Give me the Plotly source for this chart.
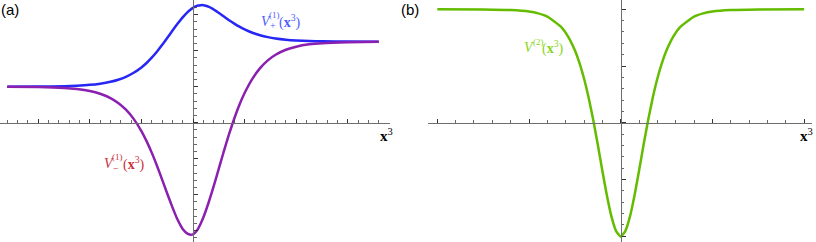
import plotly.graph_objects as go

# ---- Panel (a) data ----
xa = [-3.6, -3.0, -2.5, -2.25, -2.0, -1.8, -1.6, -1.45, -1.3, -1.15, -1.0, -0.9, -0.8, -0.7,
      -0.6, -0.5, -0.4, -0.3, -0.2, -0.1, -0.05, 0.0, 0.05, 0.1, 0.15, 0.2, 0.25, 0.3, 0.375,
      0.45, 0.525, 0.6, 0.7, 0.8, 0.9, 1.0, 1.15, 1.3, 1.45, 1.6, 1.8, 2.0, 2.25, 2.5, 3.0, 3.6]
v_plus = [1.001, 1.004, 1.015, 1.028, 1.051, 1.084, 1.135, 1.193, 1.274, 1.386, 1.535, 1.659,
          1.805, 1.971, 2.155, 2.351, 2.552, 2.746, 2.925, 3.080, 3.140, 3.190, 3.230, 3.255,
          3.265, 3.265, 3.250, 3.225, 3.170, 3.100, 3.025, 2.948, 2.846, 2.753, 2.667, 2.592,
          2.499, 2.429, 2.377, 2.339, 2.305, 2.284, 2.268, 2.260, 2.253, 2.251]
v_minus = [0.998, 0.990, 0.965, 0.935, 0.880, 0.804, 0.684, 0.549, 0.361, 0.106, -0.233,
           -0.511, -0.831, -1.188, -1.573, -1.966, -2.345, -2.690, -2.950, -3.090, -3.110,
           -3.100, -3.040, -2.940, -2.800, -2.635, -2.440, -2.230, -1.887, -1.525, -1.152,
           -0.783, -0.313, 0.117, 0.497, 0.824, 1.219, 1.516, 1.732, 1.887, 2.026, 2.112,
           2.176, 2.210, 2.238, 2.248]

# ---- Panel (b) data ----
xb = [-2.0, -1.5, -1.2, -1.0, -0.9, -0.8, -0.65, -0.575, -0.5, -0.45, -0.4, -0.35, -0.3,
      -0.25, -0.2, -0.15, -0.1, -0.05, 0.0, 0.05, 0.1, 0.15, 0.2, 0.25, 0.3, 0.35, 0.4,
      0.45, 0.5, 0.575, 0.65, 0.8, 0.9, 1.0, 1.2, 1.5, 2.0]
v2 = [2.000, 1.998, 1.988, 1.961, 1.928, 1.871, 1.689, 1.523, 1.277, 1.056, 0.780, 0.445,
      0.052, -0.386, -0.846, -1.288, -1.661, -1.911, -2.010, -1.911, -1.661, -1.288, -0.846,
      -0.386, 0.052, 0.445, 0.780, 1.056, 1.277, 1.523, 1.689, 1.871, 1.928, 1.961, 1.988,
      1.998, 2.000]

W, H = 816, 242
BLUE = "#2626F5"
PURPLE = "#8A1FB0"
GREEN = "#63BC00"

fig = go.Figure()
for xs, ys, col, xr, yr in [(xa, v_plus, BLUE, "x", "y"), (xa, v_minus, PURPLE, "x", "y"),
                            (xb, v2, GREEN, "x2", "y2")]:
    fig.add_trace(go.Scatter(x=xs, y=ys, mode="lines",
                             line=dict(color=col, width=2.5, shape="spline", smoothing=0.5),
                             xaxis=xr, yaxis=yr, showlegend=False, hoverinfo="skip"))

def px(v):
    return v / W

def py(v):
    return 1 - v / H

# pixel geometry of the two panels
a_left, a_right, a_x0, a_xu = 0, 390, 193.0, 51.6
a_y0, a_yu = 122.7, 36.0
b_left, b_right, b_x0, b_xu = 428, 812, 620.7, 91.7
b_y0, b_yu = 122.7, 56.7

axis_common = dict(showgrid=False, zeroline=False, showline=True, linecolor="#6e6e6e", linewidth=1.2,
                   showticklabels=False, ticks="inside", ticklen=4, tickwidth=1, tickcolor="#333333",
                   tick0=0, dtick=1, fixedrange=True)
minor = dict(ticks="inside", ticklen=2.5, tickwidth=0.8, tickcolor="#444444", dtick=0.2, tick0=0, showgrid=False)

fig.update_layout(
    width=W, height=H, margin=dict(l=0, r=0, t=0, b=0),
    paper_bgcolor="white", plot_bgcolor="rgba(0,0,0,0)",
    xaxis=dict(domain=[px(a_left), px(a_right)],
               range=[(a_left - a_x0) / a_xu, (a_right - a_x0) / a_xu],
               anchor="free", position=py(a_y0), minor=minor, **axis_common),
    yaxis=dict(domain=[0, 1], range=[-(H - a_y0) / a_yu, a_y0 / a_yu],
               anchor="free", position=px(a_x0), minor=minor, **axis_common),
    xaxis2=dict(domain=[px(b_left), px(b_right)],
                range=[(b_left - b_x0) / b_xu, (b_right - b_x0) / b_xu],
                anchor="free", position=py(b_y0), minor=minor, **axis_common),
    yaxis2=dict(domain=[0, 1], range=[-(H - b_y0) / b_yu, b_y0 / b_yu],
                anchor="free", position=px(b_x0), minor=minor, **axis_common),
)

serif = "Liberation Serif, Times New Roman, serif"
sans = "Liberation Sans, Arial, sans-serif"
C_P, C_M, C_2 = "#4F5CFF", "#C8303A", "#88D61A"

def t(x, y, text, size, color, family=serif, xanchor="left"):
    return dict(x=px(x), y=py(y), text=text, font=dict(family=family, size=size, color=color),
                xanchor=xanchor)

ann = [
    t(10, 10, "(a)", 15, "black", sans, "center"),
    t(410, 10, "(b)", 15, "black", sans, "center"),
    # V_+^(1)(x^3)
    t(259, 21, "<i>V</i>", 14, C_P),
    t(267, 15, "(1)", 9, C_P),
    t(267.5, 26, "+", 10, C_P),
    t(277, 21, "(<b>x</b><sup>3</sup>)", 14, C_P),
    # V_-^(1)(x^3)
    t(102, 163, "<i>V</i>", 14, C_M),
    t(110.5, 157, "(1)", 9, C_M),
    t(111, 168, "−", 10, C_M),
    t(121, 163, "(<b>x</b><sup>3</sup>)", 14, C_M),
    # V^(2)(x^3)
    t(522, 47, "<i>V</i>", 14, C_2),
    t(530.5, 42, "(2)", 9, C_2),
    t(540, 47, "(<b>x</b><sup>3</sup>)", 14, C_2),
    t(386, 135, "<b>x</b><sup>3</sup>", 15, "black", serif, "center"),
    t(806, 135, "<b>x</b><sup>3</sup>", 15, "black", serif, "center"),
]
for a in ann:
    a.update(xref="paper", yref="paper", showarrow=False, yanchor="middle")
fig.update_layout(annotations=ann)

fig.write_html("out.html", config={"displayModeBar": False, "staticPlot": True},
               post_script="document.body.style.margin='0';document.body.style.overflow='hidden';")
